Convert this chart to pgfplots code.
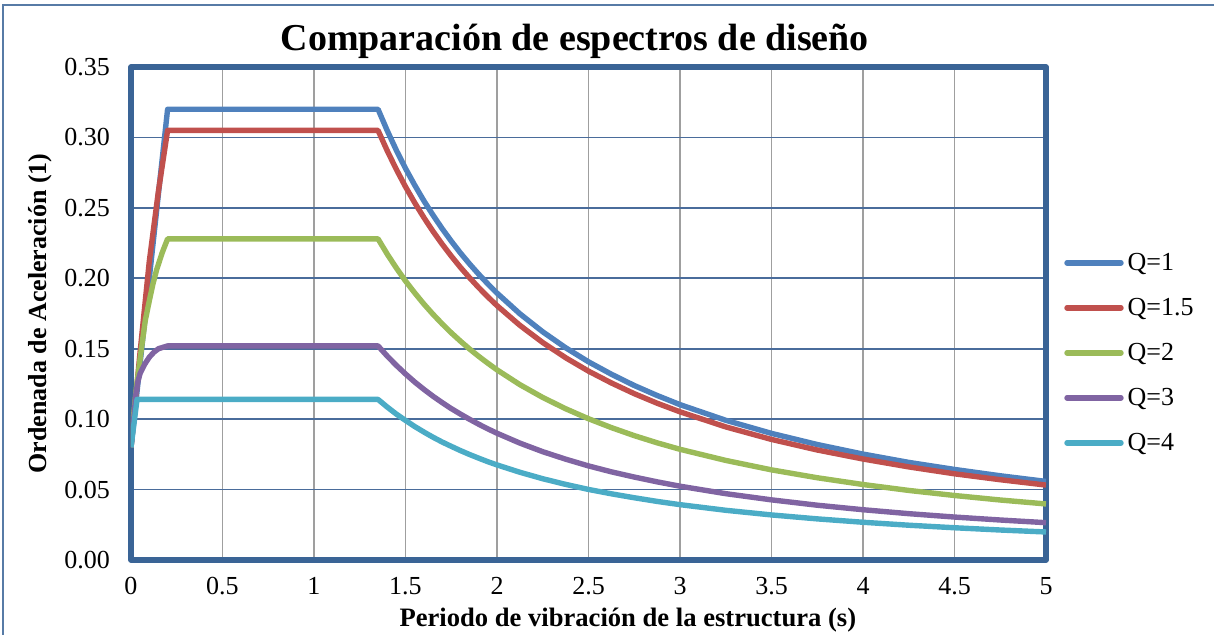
\documentclass[border=0pt]{standalone}
\usepackage{fontspec}
\setmainfont{Liberation Serif}
\usepackage{pgfplots}
\pgfplotsset{compat=1.18}

\definecolor{frameblue}{HTML}{3A6496}
\definecolor{gridblue}{HTML}{4A6C9B}
\definecolor{s1}{HTML}{4F81BD}
\definecolor{s2}{HTML}{C0504D}
\definecolor{s3}{HTML}{9BBB59}
\definecolor{s4}{HTML}{8064A2}
\definecolor{s5}{HTML}{4BACC6}

\begin{document}
\begin{tikzpicture}
\useasboundingbox (-65.5pt,-37pt) rectangle (541.5pt,280pt);
\draw[frameblue!85, line width=0.8pt] (-64pt,-40pt) -- (-64pt,277.6pt) -- (545pt,277.6pt);
\begin{axis}[
    at={(0pt,0pt)}, anchor=south west,
    scale only axis, width=457.5pt, height=246.5pt,
    xmin=0, xmax=5, ymin=0, ymax=0.35,
    xtick={0,0.5,1,1.5,2,2.5,3,3.5,4,4.5,5},
    ytick={0,0.05,0.1,0.15,0.2,0.25,0.3,0.35},
    yticklabel style={/pgf/number format/fixed, /pgf/number format/fixed zerofill,
        /pgf/number format/precision=2, xshift=-7pt},
    /pgf/number format/assume math mode=true,
    major tick length=0pt,
    tick label style={font=\fontsize{13}{15}\selectfont},
    xticklabel style={yshift=-5pt},
    grid=major,
    x grid style={gray!75, line width=0.9pt},
    y grid style={gridblue, line width=0.8pt},
    axis line style={frameblue, line width=2.6pt, line join=round},
    every axis title shift=0pt,
    title={Comparación de espectros de diseño},
    title style={font=\bfseries\fontsize{19}{22}\selectfont, at={(axis description cs:0.485,1.053)}, anchor=center},
    xlabel={Periodo de vibración de la estructura (s)},
    xlabel style={font=\bfseries\fontsize{13.3}{15}\selectfont, at={(axis description cs:0.543,-0.122)}, anchor=center},
    ylabel={Ordenada de Aceleración (1)},
    ylabel style={font=\bfseries\fontsize{13}{15}\selectfont, at={(axis description cs:-0.099,0.50)}, anchor=center},
    legend style={draw=none, fill=none, at={(axis description cs:1.013,0.42)}, anchor=west,
        font=\fontsize{13}{15}\selectfont, row sep=8.4pt,
        /tikz/every even column/.append style={column sep=0pt}},
    legend cell align=left,
    legend image code/.code={\draw[#1, line cap=round] (0pt,0pt) -- (27pt,0pt);},
    every axis plot/.append style={line width=2.7pt, line join=round, no markers},
]
\addplot[s1] coordinates {
(0,0.08) (0.2,0.32) (1.35,0.32) (1.4,0.3049) (1.45,0.2909) (1.5,0.2780) (1.55,0.2662) (1.6,0.2551)
(1.65,0.2449) (1.7,0.2353) (1.75,0.2264) (1.8,0.2180) (1.85,0.2102) (1.9,0.2029) (1.95,0.1960)
(2,0.1895) (2.125,0.1748) (2.25,0.1620) (2.375,0.1507) (2.5,0.1407) (2.625,0.1319) (2.75,0.1239)
(2.875,0.1168) (3,0.1103) (3.25,0.0992)
(3.5,0.0899) (3.75,0.0820) (4,0.0752) (4.25,0.0693) (4.5,0.0643) (4.75,0.0598) (5,0.0558)};
\addlegendentry{Q=1}
\addplot[s2] coordinates {
(0,0.08) (0.05,0.148) (0.1,0.212) (0.15,0.262) (0.2,0.305) (1.35,0.305) (1.4,0.2906) (1.45,0.2773)
(1.5,0.2650) (1.55,0.2537) (1.6,0.2432) (1.65,0.2334) (1.7,0.2243) (1.75,0.2158) (1.8,0.2078)
(1.85,0.2004) (1.9,0.1934) (1.95,0.1868) (2,0.1806) (2.125,0.1666) (2.25,0.1544) (2.375,0.1436)
(2.5,0.1341) (2.625,0.1257) (2.75,0.1181) (2.875,0.1113) (3,0.1052) (3.25,0.0945)
(3.5,0.0856) (3.75,0.0781) (4,0.0717) (4.25,0.0661) (4.5,0.0612) (4.75,0.0570) (5,0.0532)};
\addlegendentry{Q=1.5}
\addplot[s3] coordinates {
(0,0.08) (0.01,0.097) (0.02,0.11) (0.03,0.123) (0.042,0.135) (0.06,0.153) (0.078,0.170) (0.1,0.184)
(0.12,0.196) (0.14,0.206) (0.17,0.218) (0.2,0.228) (1.35,0.228) (1.4,0.2172) (1.45,0.2073)
(1.5,0.1981) (1.55,0.1897) (1.6,0.1818) (1.65,0.1745) (1.7,0.1677) (1.75,0.1613) (1.8,0.1554)
(1.85,0.1498) (1.9,0.1446) (1.95,0.1397) (2,0.1350) (2.125,0.1245) (2.25,0.1154) (2.375,0.1074)
(2.5,0.1003) (2.625,0.0940) (2.75,0.0883) (2.875,0.0832) (3,0.0786) (3.25,0.0707)
(3.5,0.0640) (3.75,0.0584) (4,0.0536) (4.25,0.0494) (4.5,0.0458) (4.75,0.0426) (5,0.0398)};
\addlegendentry{Q=2}
\addplot[s4] coordinates {
(0,0.08) (0.015,0.10) (0.027,0.118) (0.038,0.127) (0.05,0.1325) (0.075,0.139) (0.1,0.144)
(0.125,0.1475) (0.15,0.150) (0.2,0.152) (1.35,0.152) (1.4,0.1448) (1.45,0.1382) (1.5,0.1321)
(1.55,0.1264) (1.6,0.1212) (1.65,0.1163) (1.7,0.1118) (1.75,0.1075) (1.8,0.1036) (1.85,0.0999)
(1.9,0.0964) (1.95,0.0931) (2,0.0900) (2.125,0.0830) (2.25,0.0769) (2.375,0.0716) (2.5,0.0668)
(2.625,0.0626) (2.75,0.0589) (2.875,0.0555) (3,0.0524) (3.25,0.0471)
(3.5,0.0427) (3.75,0.0389) (4,0.0357) (4.25,0.0329) (4.5,0.0305) (4.75,0.0284) (5,0.0265)};
\addlegendentry{Q=3}
\addplot[s5] coordinates {
(0,0.08) (0.033,0.114) (1.35,0.114) (1.4,0.1086) (1.45,0.1036) (1.5,0.0991) (1.55,0.0948)
(1.6,0.0909) (1.65,0.0872) (1.7,0.0838) (1.75,0.0807) (1.8,0.0777) (1.85,0.0749) (1.9,0.0723)
(1.95,0.0698) (2,0.0675) (2.125,0.0623) (2.25,0.0577) (2.375,0.0537) (2.5,0.0501) (2.625,0.0470)
(2.75,0.0442) (2.875,0.0416) (3,0.0393) (3.25,0.0353)
(3.5,0.0320) (3.75,0.0292) (4,0.0268) (4.25,0.0247) (4.5,0.0229) (4.75,0.0213) (5,0.0199)};
\addlegendentry{Q=4}
\end{axis}
\end{tikzpicture}
\end{document}
